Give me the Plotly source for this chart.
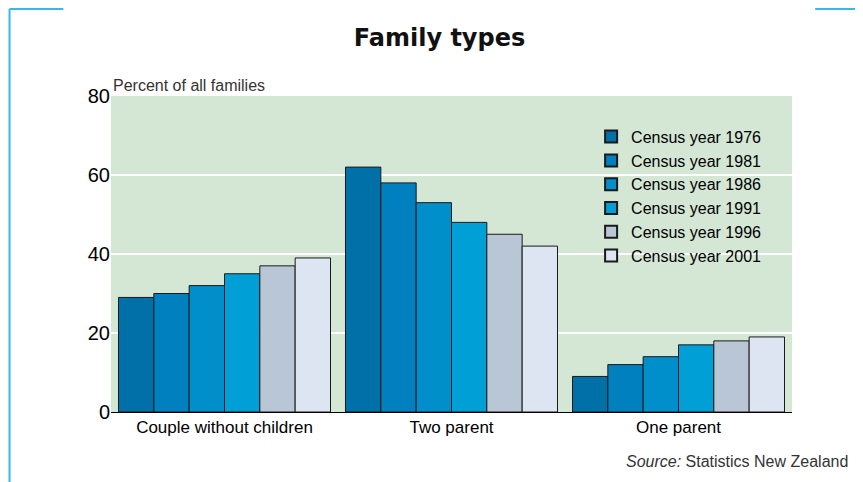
import plotly.graph_objects as go

categories = ["Couple without children", "Two parent", "One parent"]
years = ["Census year 1976", "Census year 1981", "Census year 1986",
         "Census year 1991", "Census year 1996", "Census year 2001"]
values = [
    [29, 62, 9],
    [30, 58, 12],
    [32, 53, 14],
    [35, 48, 17],
    [37, 45, 18],
    [39, 42, 19],
]
colors = ["#0070a8", "#0080bf", "#008fca", "#009fd6", "#b8c6d6", "#dde4f2"]

fig = go.Figure()
for name, vals, col in zip(years, values, colors):
    fig.add_trace(go.Bar(x=categories, y=vals, name=name,
                         marker=dict(color=col, line=dict(color="#1a1a1a", width=1))))

fig.update_layout(
    width=863, height=482,
    paper_bgcolor="white", plot_bgcolor="#d4e6d4",
    barmode="group", bargap=0.066, bargroupgap=0,
    margin=dict(l=103, r=79, t=88, b=78),
    font=dict(family="Liberation Sans, Arial", color="black"),
    title=dict(text="<b>Family types</b>", x=0.5, xanchor="center", y=0.955,
               font=dict(size=24, family="DejaVu Sans", color="#111")),
    showlegend=True,
    legend=dict(x=0.705, y=0.925, xanchor="left", yanchor="top", bgcolor="rgba(0,0,0,0)",
                font=dict(size=16, family="Liberation Sans Narrow, Liberation Sans"),
                itemsizing="constant", tracegroupgap=0),
    xaxis=dict(showgrid=False, tickfont=dict(size=17), ticks="", linecolor="black", showline=True),
    yaxis=dict(range=[0, 80], dtick=20, showgrid=True, gridcolor="white", gridwidth=2,
               tickfont=dict(size=20), ticks="", zeroline=False),
    annotations=[
        dict(text="Percent of all families", xref="paper", yref="paper", x=0, y=1.0,
             xanchor="left", yanchor="bottom", showarrow=False, font=dict(size=16, color="#333")),
        dict(text="<i>Source:</i> Statistics New Zealand", xref="paper", yref="paper",
             x=1.085, y=-0.158, xanchor="right", yanchor="middle", showarrow=False,
             font=dict(size=16, color="#333")),
    ],
    shapes=[
        dict(type="line", xref="paper", yref="paper", x0=-0.149, x1=-0.149, y0=-0.25, y1=1.275,
             line=dict(color="#35b8ea", width=2)),
        dict(type="line", xref="paper", yref="paper", x0=-0.149, x1=-0.07, y0=1.275, y1=1.275,
             line=dict(color="#35b8ea", width=2)),
        dict(type="line", xref="paper", yref="paper", x0=1.034, x1=1.104, y0=1.275, y1=1.275,
             line=dict(color="#35b8ea", width=2)),
    ],
)

fig.write_html("out.html")
